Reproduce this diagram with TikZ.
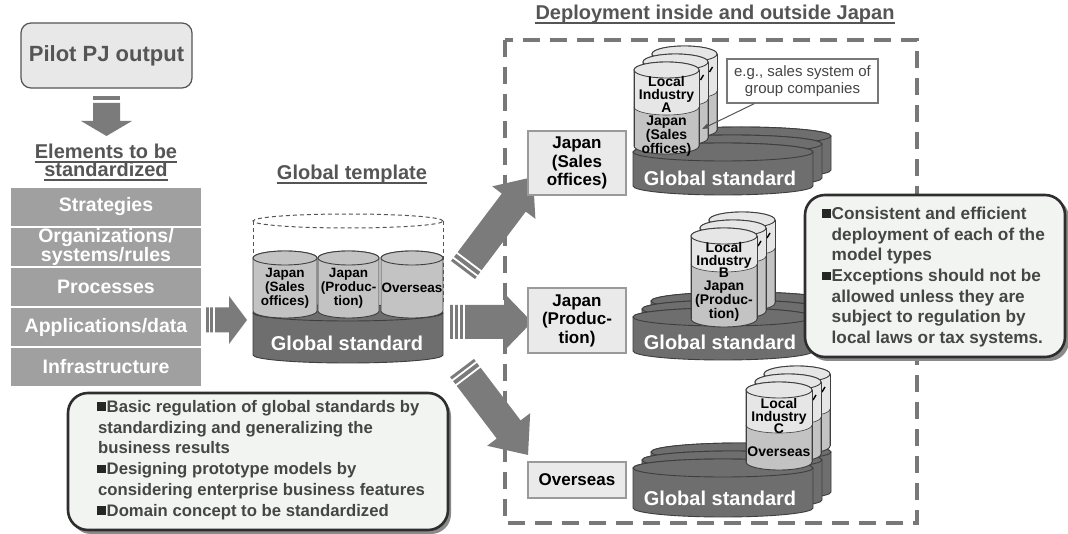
\documentclass[tikz,border=0pt]{standalone}
\usepackage{fontspec}
\setmainfont{Liberation Sans}
\usetikzlibrary{arrows.meta,calc}
\definecolor{txtg}{HTML}{454545}
\definecolor{headg}{HTML}{555555}
\definecolor{boxg}{HTML}{A0A0A0}
\definecolor{arrg}{HTML}{7B7B7B}
\definecolor{diskg}{HTML}{6E6E6E}
\definecolor{cyledge}{HTML}{3E3E3E}
\definecolor{cylhi}{HTML}{E6E6E6}
\definecolor{cyllo}{HTML}{C3C3C3}
\definecolor{callf}{HTML}{F2F4F2}
\definecolor{calle}{HTML}{2E2E2E}
\definecolor{shadg}{HTML}{8A8A8A}
\definecolor{tboxf}{HTML}{EAEAEA}
\definecolor{tboxe}{HTML}{9A9A9A}
\definecolor{dashg}{HTML}{787878}
\definecolor{pilotf}{HTML}{E8E8E8}

\newcommand\bsq{{\color{black!85}\rule[1.6pt]{8.3pt}{8.3pt}}\hspace{1.2pt}}
\newcommand\bind{\hspace{9.5pt}}

\newcommand\cylbody[6]{%
  \filldraw[fill=#6,draw=cyledge,line width=0.9pt]
  ({#1-#4},#2) -- ({#1-#4},#3) arc[start angle=180,end angle=360,x radius=#4pt,y radius=#5pt]
  -- ({#1+#4},#2) arc[start angle=0,end angle=180,x radius=#4pt,y radius=#5pt] -- cycle;}
\newcommand\cyltop[5]{%
  \filldraw[fill=#5,draw=cyledge,line width=0.9pt] (#1,#2) ellipse[x radius=#3pt,y radius=#4pt];}
\newcommand\diskshape[5]{\cylbody{#1}{#2}{#3}{#4}{#5}{diskg}\cyltop{#1}{#2}{#4}{#5}{diskg}}
\newcommand\twocyl[6]{%
  \cylbody{#1}{#2}{#4}{#5}{#6}{cyllo}%
  \fill[cylhi] ({#1-#5},#2) -- ({#1-#5},#3) arc[start angle=180,end angle=360,x radius=#5pt,y radius=#6pt] -- ({#1+#5},#2) -- cycle;
  \draw[cyledge,line width=0.6pt] ({#1-#5},#3) arc[start angle=180,end angle=360,x radius=#5pt,y radius=#6pt];
  \draw[cyledge,line width=0.9pt] ({#1-#5},#2) -- ({#1-#5},#4) ({#1+#5},#2) -- ({#1+#5},#4);
  \cyltop{#1}{#2}{#5}{#6}{cylhi}}
\newcommand\cyltick[2]{\draw[black,line width=1.4pt] ({#1+25},{#2+18}) -- ({#1+28},{#2+13});}
\newcommand\striparrow[8]{%
  \begin{scope}[shift={(#1,#2)},rotate=#3]
  \fill[arrg] (0,-#5) -- ({#4-#7},-#5) -- ({#4-#7},-#6) -- (#4,0) -- ({#4-#7},#6) -- ({#4-#7},#5) -- (0,#5) -- cycle;
  \foreach \s in {#8} \draw[white,line width=1.8pt] (\s,{-#5-1}) -- (\s,{#5+1});
  \end{scope}}

\tikzset{
  cyltxt/.style={font=\bfseries\fontsize{14}{12.8}\selectfont, align=center, inner sep=0pt, text=black},
  tcyltxt/.style={font=\bfseries\fontsize{13.5}{14.2}\selectfont, align=center, inner sep=0pt, text=black},
  gstd/.style={font=\bfseries\fontsize{20}{22}\selectfont, text=white, inner sep=0pt},
  heading/.style={font=\bfseries\fontsize{20}{22}\selectfont, text=headg, inner sep=0pt},
  uline/.style={headg, line width=1.5pt},
  stackbox/.style={fill=boxg, minimum width=190pt, minimum height=38pt, inner sep=0pt, text=white,
    font=\bfseries\fontsize{19.5}{16.5}\selectfont, align=center},
  tbox/.style={fill=tboxf, draw=tboxe, line width=1.2pt, minimum width=98pt, inner sep=0pt,
    font=\bfseries\fontsize{17}{18.5}\selectfont, align=center, text=black},
  calltxt/.style={font=\bfseries\fontsize{17.2}{20.7}\selectfont, text=txtg, align=left, inner sep=0pt},
  calltxtl/.style={font=\bfseries\fontsize{16.7}{20.8}\selectfont, text=txtg, align=left, inner sep=0pt},
  egbox/.style={draw=dashg, fill=white, line width=1.2pt, minimum width=151pt, minimum height=44pt,
    inner sep=0pt, font=\fontsize{15}{17}\selectfont, text=txtg, align=center},
  callbox/.style={fill=callf, draw=calle, line width=2.6pt, rounded corners=20pt},
  callshadow/.style={fill=shadg, rounded corners=20pt},
}

\begin{document}
\begin{tikzpicture}[x=1pt,y=-1pt]
\useasboundingbox (0,0) rectangle (1068,534);
\fill[white] (0,0) rectangle (1068,534);

% dashed deployment frame
\draw[dashg, line width=4.5pt, dash pattern=on 17pt off 10pt] (505,40) rectangle (917,523);
\node[heading, anchor=base] (hdep) at (715,20) {Deployment inside and outside Japan};
\draw[uline] ([yshift=-3pt]hdep.base west) -- ([yshift=-3pt]hdep.base east);

% pilot
\node[draw=headg, fill=pilotf, line width=1.2pt, rounded corners=10pt, minimum width=171pt, minimum height=65pt,
  inner sep=0pt, font=\bfseries\fontsize{22}{24}\selectfont, text=headg] (pilot) at (106.5,55.5) {Pilot PJ output};
\fill[arrg] (93,96) rectangle (120,100);
\fill[arrg] (93,103) -- (120,103) -- (120,121) -- (132,121) -- (106.5,136) -- (81,121) -- (93,121) -- cycle;

\node[heading, anchor=base] (hel1) at (106,159) {Elements to be};
\draw[uline] ([yshift=-3pt]hel1.base west) -- ([yshift=-3pt]hel1.base east);
\node[heading, anchor=base] (hel2) at (106,177) {standardized};
\draw[uline] ([yshift=-3pt]hel2.base west) -- ([yshift=-3pt]hel2.base east);

% stack
\node[stackbox] (s1) at (106,207) {Strategies};
\node[stackbox] (s2) at (106,247) {Organizations/\\systems/rules};
\node[stackbox] (s3) at (106,287) {Processes};
\node[stackbox] (s4) at (106,327) {Applications/data};
\node[stackbox] (s5) at (106,367) {Infrastructure};

% arrow to template
\striparrow{206}{320}{0}{41}{12.5}{24}{18}{3.5,8}

% global template
\node[heading, anchor=base] (htpl) at (352,180) {Global template};
\draw[uline] ([yshift=-3pt]htpl.base west) -- ([yshift=-3pt]htpl.base east);
\draw[headg, line width=1pt, dash pattern=on 4pt off 3pt] (348,221) ellipse[x radius=95pt,y radius=7pt];
\draw[headg, line width=1pt, dash pattern=on 4pt off 3pt] (253,221) -- (253,305) (443,221) -- (443,305);
\diskshape{348}{313}{355}{95}{8}
\cylbody{285}{258}{311}{32}{7}{cyllo}\cyltop{285}{258}{32}{7}{cyllo}
\cylbody{348.5}{258}{311}{30.5}{7}{cyllo}\cyltop{348.5}{258}{30.5}{7}{cyllo}
\cylbody{412}{258}{311}{31}{7}{cyllo}\cyltop{412}{258}{31}{7}{cyllo}
\node[tcyltxt] (tc1) at (285,288) {Japan\\(Sales\\offices)};
\node[tcyltxt] (tc2) at (348.5,288) {Japan\\(Produc-\\tion)};
\node[tcyltxt] (tc3) at (412,288) {Overseas};
\node[gstd] (tgs) at (347,343) {Global standard};

% arrows to targets
\striparrow{463}{270}{53}{116.4}{15}{27}{32}{4,10}
\striparrow{450}{322}{0}{82}{17}{29}{28}{4.2,9.2,13.6}
\striparrow{462}{368}{-52.8}{109.2}{15}{27}{32}{4,10}

% target boxes
\node[tbox, minimum height=64pt] (tb1) at (577,163) {Japan\\(Sales\\offices)};
\node[tbox, minimum height=65pt] (tb2) at (577,320.5) {Japan\\(Produc-\\tion)};
\node[tbox, minimum height=36pt] (tb3) at (577,480) {Overseas};

% group A
\diskshape{741}{136}{170}{90}{9}
\diskshape{732}{144}{178}{90}{9}
\diskshape{723}{152}{186}{90}{9}
\twocyl{684.5}{54}{91}{130}{32.5}{8}\cyltick{684.5}{54}
\twocyl{675.5}{62}{99}{138}{32.5}{8}\cyltick{675.5}{62}
\twocyl{666.5}{70}{107}{146}{32.5}{8}
\node[cyltxt] (ca1) at (666.5,116.5) {Local\\Industry\\A\\Japan\\(Sales\\offices)};
\node[gstd] (gsa) at (720,178) {Global standard};

% group B
\diskshape{741}{301}{335}{90}{9}
\diskshape{732}{309}{343}{90}{9}
\diskshape{723}{317}{351}{90}{9}
\twocyl{742}{220}{248}{303}{33}{8}\cyltick{742}{220}
\twocyl{733}{228}{256}{311}{33}{8}\cyltick{733}{228}
\twocyl{724}{236}{264}{319}{33}{8}
\node[cyltxt] (cb1) at (724,282) {Local\\Industry\\B\\Japan\\(Produc-\\tion)};
\node[gstd] (gsb) at (720,342) {Global standard};

% group C
\diskshape{741}{452}{492}{90}{9}
\diskshape{732}{460}{500}{90}{9}
\diskshape{723}{468}{508}{90}{9}
\twocyl{797}{374}{409}{446}{33}{8}\cyltick{797}{374}
\twocyl{788}{382}{417}{454}{33}{8}\cyltick{788}{382}
\twocyl{779}{390}{425}{462}{33}{8}
\node[cyltxt] (cc1) at (779,416) {Local\\Industry\\C};
\node[cyltxt] (cc2) at (779,452) {Overseas};
\node[gstd] (gsc) at (720,498) {Global standard};

% e.g. callout
\node[egbox] (eg) at (802.5,81) {e.g., sales system of\\group companies};
\coordinate (egtip) at (702,129);
\draw[headg, line width=1pt, -{Triangle[length=7pt,width=5pt]}] ([xshift=28pt]eg.south west) -- (egtip);

% right callout
\fill[callshadow] (808,198) rectangle (1069,361);
\draw[callbox] (805,195) rectangle (1065,357);
\node[calltxt, anchor=west] (rc) at (822,277) {\bsq Consistent and efficient\\\bind deployment of each of the\\\bind model types\\\bsq Exceptions should not be\\\bind allowed unless they are\\\bind subject to regulation by\\\bind local laws or tax systems.};

% left callout
\fill[callshadow] (71,396) rectangle (451,534);
\draw[callbox] (68,393) rectangle (448,530);
\node[calltxtl, anchor=west] (lc) at (97,460) {\bsq Basic regulation of global standards by\\\hspace{1pt}standardizing and generalizing the\\\hspace{1pt}business results\\\bsq Designing prototype models by\\\hspace{1pt}considering enterprise business features\\\bsq Domain concept to be standardized};
\end{tikzpicture}
\end{document}
